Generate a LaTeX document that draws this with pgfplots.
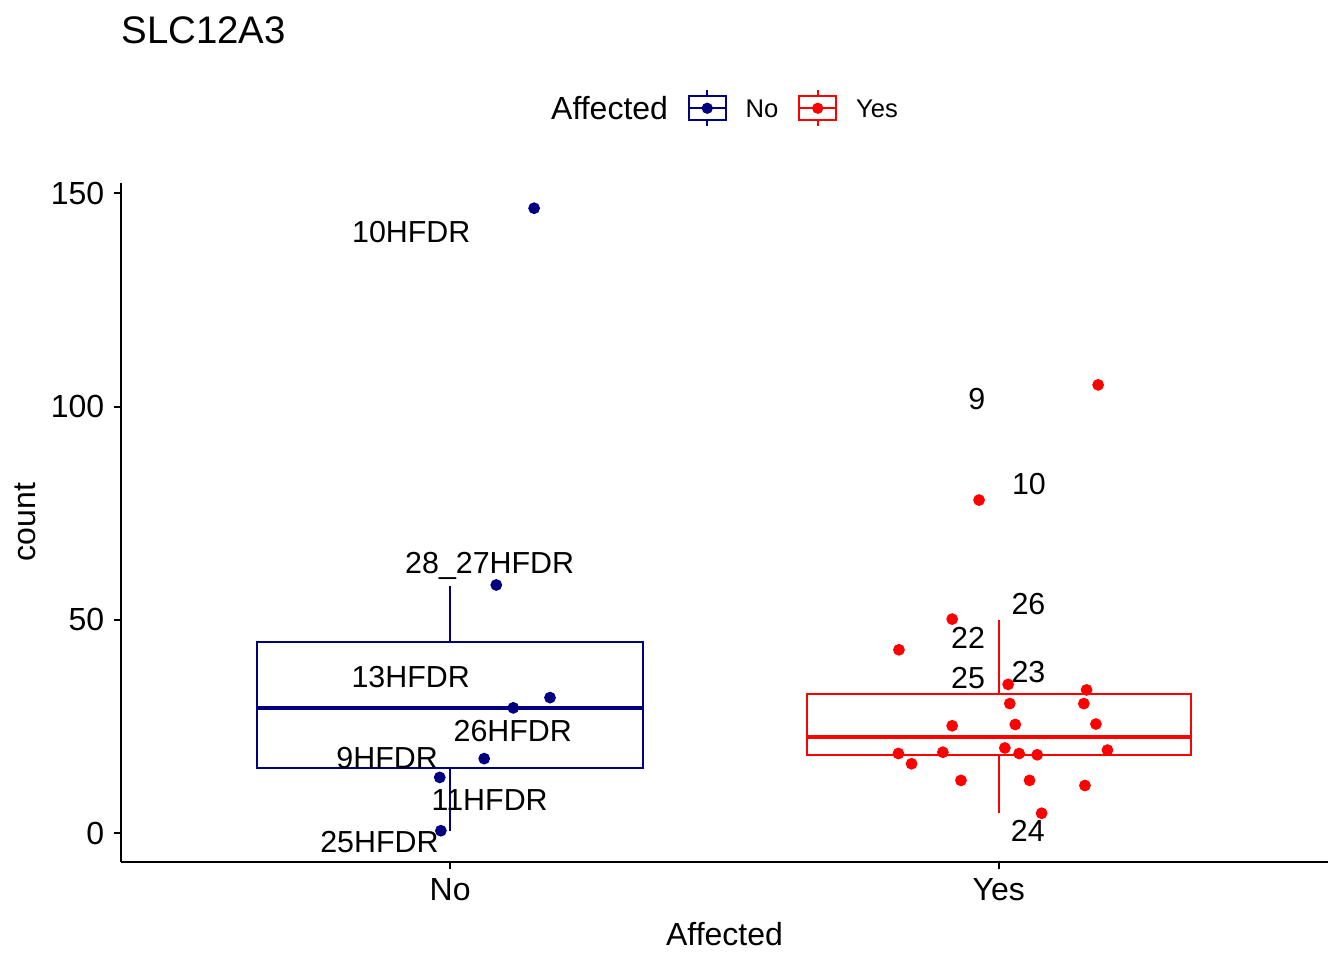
\documentclass[border=0pt]{standalone}
\usepackage{fontspec}
\setmainfont{Liberation Sans}
\usepackage{pgfplots}
\pgfplotsset{compat=1.18}
\usepgfplotslibrary{statistics}
\definecolor{navyc}{RGB}{0,0,128}
\definecolor{redc}{RGB}{255,0,0}

\pgfplotstableread{
x y
1.153 146.5
1.084 58.2
1.182 31.8
1.115 29.4
1.062 17.5
0.981 13.1
0.983 0.6
}\noData

\pgfplotstableread{
x y
2.181 105.1
1.964 78.1
1.915 50.2
1.818 43.0
2.017 34.9
2.160 33.6
2.020 30.4
2.155 30.4
1.915 25.2
2.030 25.5
2.177 25.6
2.011 20.0
2.198 19.5
1.898 19.0
1.817 18.7
2.037 18.7
2.070 18.4
1.841 16.3
1.931 12.4
2.056 12.4
2.157 11.2
2.078 4.7
}\yesData

\pgfplotstableread{
x y label
0.929 140.9 10HFDR
1.072 63.4 28\_27HFDR
0.928 36.6 13HFDR
1.114 24.0 26HFDR
0.885 17.6 9HFDR
1.072 7.7 11HFDR
0.871 -2.0 25HFDR
1.960 101.8 9
2.055 81.9 10
2.054 53.8 26
1.944 45.8 22
1.944 36.5 25
2.054 37.8 23
2.053 0.6 24
}\labelData

\begin{document}
\begin{tikzpicture}
\path (0,0) rectangle (504pt,360pt);
\begin{axis}[
  at={(45.375pt,36.86pt)}, anchor=south west,
  scale only axis, width=452.625pt, height=254.66pt,
  xmin=0.4, xmax=2.6, ymin=-6.66, ymax=152.5,
  axis lines=left,
  axis line style={-, line width=0.75pt, black},
  xtick={1,2}, xticklabels={No,Yes},
  ytick={0,50,100,150},
  minor tick num=0,
  tick align=outside,
  major tick length=2.6pt,
  tick style={line width=0.75pt, black},
  /pgf/number format/assume math mode=true,
  ticklabel style={font=\fontsize{12}{14}\selectfont, text=black},
  yticklabel style={anchor=east, inner sep=0pt, xshift=-3.5pt},
  xticklabel style={anchor=north, inner sep=0pt, yshift=-3.5pt},
  xlabel={Affected}, ylabel={count},
  label style={font=\fontsize{12}{14}\selectfont},
  xlabel style={at={(axis description cs:0.5,-0.1241)}, anchor=base, inner sep=0pt},
  ylabel style={at={(axis description cs:-0.0707,0.5)}, anchor=base, rotate=0, inner sep=0pt},
  title={SLC12A3},
  title style={at={(axis description cs:0,1.1815)}, anchor=base west, inner sep=0pt, font=\fontsize{14.4}{17}\selectfont},
  legend columns=-1,
  legend style={draw=none, fill=none, inner sep=0pt, outer sep=0pt,
    at={(axis description cs:0.6437,1.1095)}, anchor=east,
    font=\fontsize{9.6}{11}\selectfont,
    nodes={inner sep=0pt, text depth=0pt},
    /tikz/every odd column/.append style={column sep=7.1pt},
    /tikz/every even column/.append style={column sep=7.4pt}},
  boxplot/draw direction=y,
  boxplot/every median/.style={line width=1.6pt},
]
\addlegendimage{empty legend}
\addlegendentry{\fontsize{12}{14}\selectfont Affected}
\addlegendimage{legend image code/.code={
  \draw[navyc,line width=0.75pt] (0pt,-4.5pt) rectangle (13.9pt,4.5pt);
  \draw[navyc,line width=0.75pt] (0pt,0pt)--(13.9pt,0pt) (6.95pt,4.5pt)--(6.95pt,6.8pt) (6.95pt,-4.5pt)--(6.95pt,-6.8pt);
  \fill[navyc] (6.95pt,0pt) circle (1.9pt);}}
\addlegendentry{No}
\addlegendimage{legend image code/.code={
  \draw[redc,line width=0.75pt] (0pt,-4.5pt) rectangle (13.9pt,4.5pt);
  \draw[redc,line width=0.75pt] (0pt,0pt)--(13.9pt,0pt) (6.95pt,4.5pt)--(6.95pt,6.8pt) (6.95pt,-4.5pt)--(6.95pt,-6.8pt);
  \fill[redc] (6.95pt,0pt) circle (1.9pt);}}
\addlegendentry{Yes}

\addplot[forget plot, draw=navyc, line width=0.75pt, fill=white, solid,
  boxplot prepared={draw position=1, lower whisker=0.6, lower quartile=15.2,
  median=29.4, upper quartile=44.9, upper whisker=58.0, box extend=0.703, whisker extend=0}]
  coordinates {};
\addplot[forget plot, draw=redc, line width=0.75pt, fill=white, solid,
  boxplot prepared={draw position=2, lower whisker=4.7, lower quartile=18.4,
  median=22.6, upper quartile=32.6, upper whisker=49.9, box extend=0.701, whisker extend=0}]
  coordinates {};

\addplot[forget plot, only marks, mark=*, mark size=2pt, color=navyc] table {\noData};
\addplot[forget plot, only marks, mark=*, mark size=2pt, color=redc] table {\yesData};

\addplot[forget plot, draw=none, mark=none, nodes near coords, nodes near coords align={center},
  point meta=explicit symbolic,
  nodes near coords style={anchor=center, inner sep=0pt, text depth=0pt, text=black,
    font=\fontsize{11.4}{13}\selectfont}]
  table[meta=label] {\labelData};
\end{axis}
\end{tikzpicture}
\end{document}
